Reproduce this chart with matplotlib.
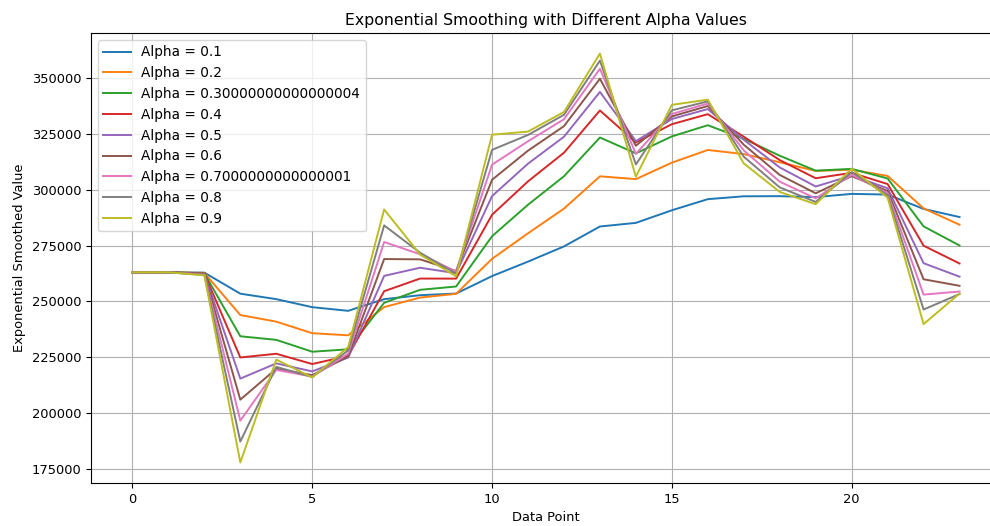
import numpy as np
import pandas as pd
import matplotlib
matplotlib.use("Agg")
import matplotlib.pyplot as plt

# raw series (alpha=0.9 line is almost the raw data)
data_points = list(range(24))
raw_values = [263000, 263000, 261500, 168500, 229000, 215000, 231000, 298000,
              268700, 260100, 331700, 326200, 335800, 363900, 299700, 341600,
              340600, 308600, 297600, 292900, 311200, 295000, 233500, 255000]

alphas = [0.1, 0.2, 0.30000000000000004, 0.4, 0.5, 0.6, 0.7000000000000001, 0.8, 0.9]

plt.rcParams['font.size'] = 9.4
plt.rcParams['lines.linewidth'] = 1.4

fig = plt.figure(figsize=(9.9, 5.26), dpi=100)
ax = fig.add_axes([0.092, 0.082, 0.919, 0.855])

series = pd.Series(raw_values, index=data_points)
for a in alphas:
    smoothed = series.ewm(alpha=a, adjust=False).mean()
    ax.plot(data_points, smoothed.values, label=f"Alpha = {a}")

ax.set_title("Exponential Smoothing with Different Alpha Values", fontsize=11.3)
ax.set_xlabel("Data Point")
ax.set_ylabel("Exponential Smoothed Value")
ax.legend(loc="upper left", fontsize=9.8)
ax.grid(True)

fig.savefig("out.png", dpi=100)
